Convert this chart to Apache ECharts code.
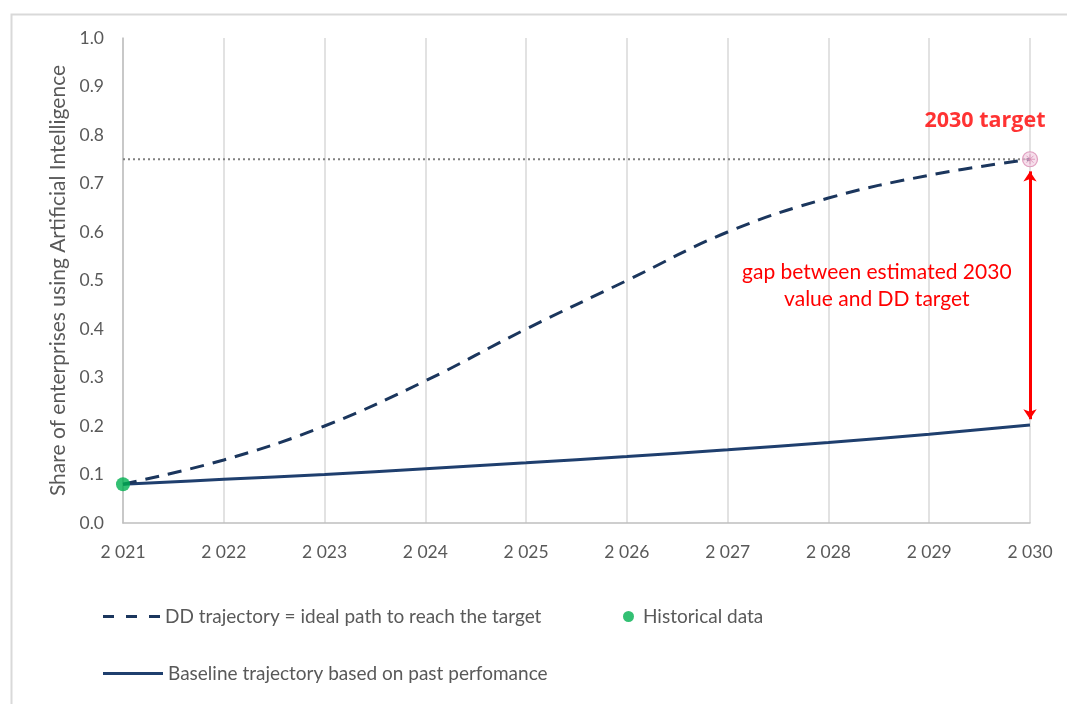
<!DOCTYPE html>
<html>
<head>
<meta charset="utf-8">
<script src="https://cdn.jsdelivr.net/npm/echarts@6/dist/echarts.min.js"></script>
<style>
html,body{margin:0;padding:0;background:#fff;}
#c{width:1067px;height:704px;}
</style>
</head>
<body>
<div id="c"></div>
<script>
// ---- data ----
const years = [2021, 2022, 2023, 2024, 2025, 2026, 2027, 2028, 2029, 2030];
const ddTrajectory = [0.08, 0.13, 0.20, 0.293, 0.40, 0.50, 0.60, 0.67, 0.717, 0.75];
const baseline = [0.08, 0.09, 0.10, 0.112, 0.124, 0.137, 0.151, 0.166, 0.183, 0.202];
const historicalYears = [2021];
const historicalValues = [0.08];
const targetYear = 2030;
const targetValue = 0.75;
const yTicks = [0, 0.1, 0.2, 0.3, 0.4, 0.5, 0.6, 0.7, 0.8, 0.9, 1.0];

const FONT = 'Lato';
const GREY = '#595959';
const NAVY = '#1f3f6e';
const NAVY_DASH = '#1b365d';

const chart = echarts.init(document.getElementById('c'), null, {renderer: 'canvas'});

const fmtYear = v => String(v).replace(/(\d)(\d{3})$/, '$1 $2');
const legendText = {color: GREY, fontSize: 19, fontFamily: FONT, padding: [0, 0, 0, 0]};

const option = {
  animation: false,
  backgroundColor: '#fff',
  textStyle: {fontFamily: FONT},
  grid: {left: 123, right: 37, top: 38, bottom: 181, containLabel: false},
  xAxis: {
    type: 'value', min: years[0], max: years[years.length - 1], interval: 1,
    axisLine: {show: true, lineStyle: {color: '#bfbfbf', width: 1.5}},
    axisTick: {show: false},
    splitLine: {show: true, lineStyle: {color: '#d9d9d9', width: 1.5}},
    axisLabel: {color: GREY, fontSize: 17.5, fontFamily: FONT, margin: 20, formatter: fmtYear}
  },
  yAxis: {
    type: 'value', min: yTicks[0], max: yTicks[yTicks.length - 1], interval: 0.1,
    name: 'Share of enterprises using Artificial Intelligence',
    nameLocation: 'middle', nameGap: 52, nameRotate: 90,
    nameTextStyle: {color: GREY, fontSize: 21, fontFamily: FONT},
    axisLine: {show: true, lineStyle: {color: '#bfbfbf', width: 1.5}},
    axisTick: {show: false},
    splitLine: {show: false},
    axisLabel: {color: GREY, fontSize: 17.5, fontFamily: FONT, margin: 19, formatter: v => v.toFixed(1)}
  },
  legend: [
    {
      left: 98, top: 602, itemWidth: 57, itemHeight: 3, itemGap: 0,
      textStyle: legendText,
      data: [{name: 'DD trajectory = ideal path to reach the target',
              icon: 'path://M0,0h11v3h-11z M23,0h11v3h-11z M46,0h11v3h-11z'}],
      selectedMode: false
    },
    {
      left: 618, top: 602, itemWidth: 11, itemHeight: 11, itemGap: 0,
      textStyle: Object.assign({}, legendText, {padding: [0, 0, 0, 4]}),
      data: [{name: 'Historical data', icon: 'circle'}],
      selectedMode: false
    },
    {
      left: 98, top: 659, itemWidth: 60, itemHeight: 3, itemGap: 0,
      textStyle: legendText,
      data: [{name: 'Baseline trajectory based on past perfomance', icon: 'path://M0,0h60v3h-60z'}],
      selectedMode: false
    }
  ],
  series: [
    {
      name: 'Target line', type: 'line', silent: true,
      data: [[years[0], targetValue], [targetYear, targetValue]],
      symbol: 'none',
      lineStyle: {color: '#808080', width: 2, type: [2, 3]},
      z: 1
    },
    {
      name: 'Baseline trajectory based on past perfomance', type: 'line',
      data: years.map((y, i) => [y, baseline[i]]),
      symbol: 'none', smooth: 0.4,
      lineStyle: {color: NAVY, width: 3},
      itemStyle: {color: NAVY},
      z: 3
    },
    {
      name: 'DD trajectory = ideal path to reach the target', type: 'line',
      data: years.map((y, i) => [y, ddTrajectory[i]]),
      symbol: 'none', smooth: 0.4,
      lineStyle: {color: NAVY_DASH, width: 3, type: [14, 9]},
      itemStyle: {color: NAVY_DASH},
      z: 3,
      markLine: {
        silent: true,
        symbol: ['arrow', 'arrow'], symbolSize: [10, 10],
        lineStyle: {color: '#ff0000', width: 3, type: 'solid'},
        label: {show: false},
        data: [[
          {coord: [targetYear, targetValue - 0.025]},
          {coord: [targetYear, baseline[baseline.length - 1] + 0.012]}
        ]]
      }
    },
    {
      name: 'Historical data', type: 'scatter',
      data: historicalYears.map((y, i) => [y, historicalValues[i]]),
      symbol: 'circle', symbolSize: 14,
      itemStyle: {color: '#00b050'},
      z: 5
    },
    {
      name: 'Target', type: 'scatter', silent: true,
      data: [[targetYear, targetValue]],
      symbol: 'circle', symbolSize: 15,
      itemStyle: {color: 'rgba(240,200,222,0.75)', borderColor: '#d98cb3', borderWidth: 1.2},
      label: {
        show: true, position: 'top', offset: [-45, -14],
        formatter: '2030 target', color: '#ff0000', fontWeight: 'bold', fontSize: 21.5, fontFamily: 'Open Sans'
      },
      z: 6
    },
    {
      name: 'Target cross', type: 'scatter', silent: true,
      data: [[targetYear, targetValue]],
      symbol: 'path://M5,0L5,10M0,5L10,5M1.5,1.5L8.5,8.5M8.5,1.5L1.5,8.5', symbolSize: 10,
      itemStyle: {color: 'none', borderColor: '#d98cb3', borderWidth: 1},
      z: 7
    }
  ]
};
chart.setOption(option);

// annotation text positioned from the axis scales
const p = chart.convertToPixel({gridIndex: 0}, [targetYear - 1.52, (targetValue + baseline[baseline.length - 1]) / 2 + 0.013]);
chart.setOption({
  graphic: [
    {
      type: 'rect', left: 9, top: 12, silent: true,
      shape: {width: 1200, height: 900},
      style: {fill: 'none', stroke: '#d9d9d9', lineWidth: 2}
    },
    {
      type: 'text', x: p[0], y: p[1], silent: true,
      style: {
        text: 'gap between estimated 2030\nvalue and DD target',
        fill: '#ff0000', font: '21px "' + FONT + '"', align: 'center', verticalAlign: 'middle', lineHeight: 27
      }
    }
  ]
});
</script>
</body>
</html>
